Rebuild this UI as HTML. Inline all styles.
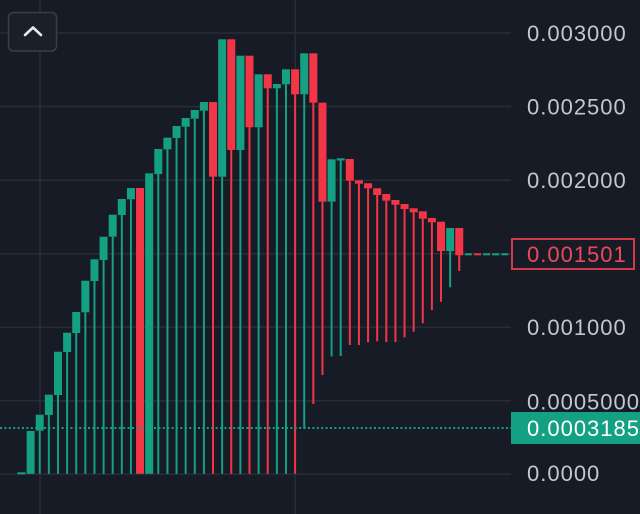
<!DOCTYPE html>
<html><head><meta charset="utf-8"><style>
html,body{margin:0;padding:0;background:#171b26;}
svg{display:block;}
text{font-family:"Liberation Sans",sans-serif;font-size:22px;letter-spacing:1px;}
</style></head><body>
<svg width="640" height="514" viewBox="0 0 640 514" xmlns="http://www.w3.org/2000/svg">
<rect x="0" y="0" width="640" height="514" fill="#171b26"/>
<g stroke="#282c37" stroke-width="1.5">
<line x1="0" y1="33" x2="511" y2="33"/>
<line x1="0" y1="106.5" x2="511" y2="106.5"/>
<line x1="0" y1="180.3" x2="511" y2="180.3"/>
<line x1="0" y1="253.8" x2="511" y2="253.8"/>
<line x1="0" y1="327.3" x2="511" y2="327.3"/>
<line x1="0" y1="400.7" x2="511" y2="400.7"/>
<line x1="0" y1="474.3" x2="511" y2="474.3"/>
<line x1="40" y1="0" x2="40" y2="514"/>
<line x1="295.3" y1="0" x2="295.3" y2="514"/>
</g>
<g id="c"></g>
<line x1="0" y1="428" x2="511" y2="428" stroke="#14a083" stroke-width="2" stroke-dasharray="2 2.4"/>
<rect x="8.5" y="12.5" width="48" height="38.5" rx="5" fill="#1b1f2a" stroke="#3a3e49" stroke-width="1.5"/>
<polyline points="25,35 33,27.5 41,35" fill="none" stroke="#e8e8ea" stroke-width="2.6" stroke-linecap="round" stroke-linejoin="round"/>
<g fill="#c4c7cd">
<text x="527" y="41">0.003000</text>
<text x="527" y="114.5">0.002500</text>
<text x="527" y="188">0.002000</text>
<text x="527" y="335">0.001000</text>
<text x="527" y="409.5">0.0005000</text>
<text x="527" y="481">0.0000</text>
</g>
<rect x="512" y="239" width="122" height="30" fill="#171b26" stroke="#d23a49" stroke-width="2"/>
<text x="527" y="262" fill="#f0485a">0.001501</text>
<rect x="511" y="412" width="129" height="32" fill="#14a083"/>
<text x="527" y="436" fill="#ffffff">0.0003185</text>
</svg>
<script>
(function(){
var G="#14a083",R="#f23648";
var d=[
[0,'G',472.3,474.3,0],
[1,'G',431,473.8,0],
[2,'G',414.7,430.7,473.8],
[3,'G',394.7,415,473.8],
[4,'G',351.7,395,473.8],
[5,'G',332.7,352,473.8],
[6,'G',312,333,473.8],
[7,'G',280.7,312.3,473.8],
[8,'G',259.3,281,473.8],
[9,'G',236.7,260,473.8],
[10,'G',214.7,236.7,473.8],
[11,'G',199,215,473.8],
[12,'G',188,199.3,473.8],
[13,'R',188,473.8,0],
[14,'G',173.3,473.8,0],
[15,'G',149,174,473.8],
[16,'G',137.7,149.3,473.8],
[17,'G',126,138,473.8],
[18,'G',118,126.7,473.8],
[19,'G',110,118.7,473.8],
[20,'G',102,110.7,473.8],
[21,'R',102,176.7,473.8],
[22,'G',39.3,176.7,473.8],
[23,'R',39.3,150,473.8],
[24,'G',55.7,150,473.8],
[25,'R',55.7,127.3,473.8],
[26,'G',74.3,127.3,473.8],
[27,'R',74.3,88.3,473.8],
[28,'G',84,88.3,473.8],
[29,'G',69.3,84.3,473.8],
[30,'R',69.3,94.3,473.8],
[31,'G',53.3,94.3,428.3],
[32,'R',53.3,102.7,404],
[33,'R',102.7,201.7,375],
[34,'G',159.3,201.7,356.5],
[35,'G',158.3,160.5,356],
[36,'R',159,180.7,345],
[37,'R',180.3,183.7,345],
[38,'R',183.3,188.3,342.3],
[39,'R',188.3,195,341.3],
[40,'R',194,200.7,342],
[41,'R',200,204.7,342],
[42,'R',204,209,337.3],
[43,'R',208.3,212.3,331.7],
[44,'R',211.3,218.7,323.3],
[45,'R',218,222.3,310],
[46,'R',221.7,251,301.7],
[47,'G',228,251,287.3],
[48,'R',228,255.3,271],
[49,'G',253.3,255.3,0],
[50,'R',253.3,255.3,0],
[51,'G',253.3,255.3,0],
[52,'G',253.3,255.3,0],
[53,'G',253.3,255.3,0]
];
var s="";
for(var k=0;k<d.length;k++){
 var r=d[k],i=r[0],col=r[1]=='G'?G:R,cx=21.5+9.12*i;
 var top=r[2],bot=r[3],wb=r[4];
 if(wb>bot){s+='<rect x="'+(cx-1).toFixed(2)+'" y="'+bot+'" width="2" height="'+(wb-bot).toFixed(2)+'" fill="'+col+'"/>';}
 var w=(i>=49)?7:8;
 var x=cx-w/2;
 if(i==53){w=Math.min(w,511-x);}
 s+='<rect x="'+x.toFixed(2)+'" y="'+top+'" width="'+w+'" height="'+(bot-top).toFixed(2)+'" fill="'+col+'"/>';
}
document.getElementById('c').innerHTML=s;
})();
</script>
</body></html>
